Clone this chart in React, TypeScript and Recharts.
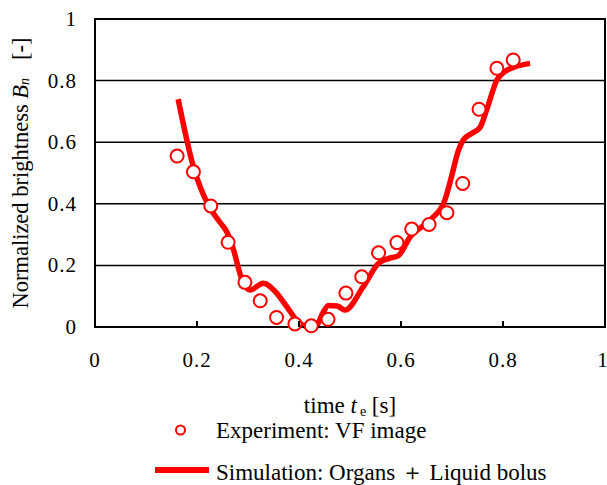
import React from 'react';
import {
  ComposedChart,
  Line,
  Scatter,
  XAxis,
  YAxis,
  CartesianGrid,
  ReferenceArea,
  Legend,
} from 'recharts';

// simulation curve (Organs + Liquid bolus)
const SIM_T = [
  0.163, 0.193, 0.222, 0.245, 0.258, 0.268, 0.291, 0.304, 0.33, 0.356, 0.376, 0.395, 0.415, 0.435,
  0.445, 0.458, 0.475, 0.49, 0.526, 0.556, 0.575, 0.595, 0.618, 0.657, 0.686, 0.699, 0.712, 0.722,
  0.74, 0.755, 0.768, 0.788, 0.804, 0.853,
];
const SIM_B = [
  0.74, 0.52, 0.396, 0.34, 0.31, 0.27, 0.142, 0.12, 0.142, 0.11, 0.066, 0.023, 0.002, 0.006,
  0.04, 0.07, 0.068, 0.055, 0.131, 0.207, 0.222, 0.232, 0.293, 0.347, 0.412, 0.488, 0.57, 0.607,
  0.63, 0.648, 0.705, 0.802, 0.83, 0.856,
];

// experiment: VF image
const EXP_T = [
  0.161, 0.193, 0.227, 0.261, 0.294, 0.324, 0.356, 0.392, 0.424, 0.457, 0.492, 0.523, 0.556,
  0.592, 0.621, 0.655, 0.69, 0.721, 0.753, 0.788, 0.82,
];
const EXP_B = [
  0.555, 0.504, 0.393, 0.275, 0.145, 0.085, 0.031, 0.01, 0.004, 0.025, 0.11, 0.163, 0.241,
  0.274, 0.318, 0.333, 0.371, 0.466, 0.707, 0.84, 0.867,
];

const TICKS = [0, 0.2, 0.4, 0.6, 0.8, 1];

const simData = SIM_T.map((t, i) => ({ t, v: SIM_B[i] }));
const expData = EXP_T.map((t, i) => ({ t, v: EXP_B[i] }));

const FONT = "'Liberation Serif', 'Times New Roman', 'DejaVu Serif', serif";
const RED = '#ff0000';
const serif = { fontFamily: FONT };

const XTick = (props: any) => {
  const { x, y, payload } = props;
  const v = payload.value;
  return (
    <g>
      {v > 0 && v < 1 && <line x1={x} y1={y} x2={x} y2={y - 6} stroke="#000" strokeWidth={2} />}
      <text x={x} y={y + 40} textAnchor="middle" style={serif} fontSize={21} fill="#000" letterSpacing={1}>
        {String(v)}
      </text>
    </g>
  );
};

const YTick = (props: any) => {
  const { x, y, payload } = props;
  return (
    <text x={x} y={y + 7} textAnchor="end" style={serif} fontSize={21} fill="#000" letterSpacing={1}>
      {String(payload.value)}
    </text>
  );
};

const XTitle = (props: any) => {
  const { viewBox } = props;
  const cx = viewBox.x + viewBox.width / 2;
  return (
    <text x={cx} y={viewBox.y + 86} textAnchor="middle" style={serif} fontSize={23} fill="#000">
      time <tspan fontStyle="italic">t</tspan>
      <tspan fontSize={14} dy={3} dx={3}>e</tspan>
      <tspan dy={-3}> [s]</tspan>
    </text>
  );
};

const YTitle = (props: any) => {
  const { viewBox } = props;
  const cx = viewBox.x - 15;
  const cy = viewBox.y + viewBox.height / 2;
  return (
    <text
      x={cx}
      y={cy}
      transform={`rotate(-90, ${cx}, ${cy})`}
      textAnchor="middle"
      dominantBaseline="central"
      style={serif}
      fontSize={22.5}
      fill="#000"
    >
      Normalized brightness <tspan fontStyle="italic">B</tspan>
      <tspan fontStyle="italic" fontSize={14} dy={4}>n</tspan>
      <tspan dy={-4} dx={18}>[-]</tspan>
    </text>
  );
};

const renderLegend = () => (
  <svg width={607} height={70} style={{ display: 'block' }}>
    <circle cx={180.5} cy={15} r={4.5} fill="#fff" stroke={RED} strokeWidth={2} />
    <text x={216} y={23} style={serif} fontSize={23} fill="#000">
      Experiment: VF image
    </text>
    <line x1={155} y1={55} x2={209} y2={55} stroke={RED} strokeWidth={6} />
    <text x={216} y={65} style={serif} fontSize={23} fill="#000">
      Simulation: Organs ＋ Liquid bolus
    </text>
  </svg>
);

export default function App() {
  return (
    <div style={{ position: 'absolute', left: 0, top: 0, background: '#fff', fontFamily: FONT }}>
      <ComposedChart width={607} height={485} margin={{ top: 19, right: 2, left: 35, bottom: 128 }}>
        <CartesianGrid vertical={false} stroke="#000" strokeWidth={1.5} />
        <XAxis
          type="number"
          dataKey="t"
          domain={[0, 1]}
          ticks={TICKS}
          height={30}
          axisLine={{ stroke: '#000', strokeWidth: 2 }}
          tickLine={false}
          tickSize={0}
          tickMargin={0}
          tick={<XTick />}
          label={{ content: <XTitle /> }}
        />
        <YAxis
          type="number"
          dataKey="v"
          domain={[0, 1]}
          ticks={TICKS}
          width={60}
          axisLine={{ stroke: '#000', strokeWidth: 2 }}
          tickLine={false}
          tickSize={0}
          tickMargin={18}
          tick={<YTick />}
          label={{ content: <YTitle /> }}
        />
        <ReferenceArea x1={0} x2={1} y1={0} y2={1} fill="none" stroke="#000" strokeWidth={2} />
        <Line
          data={simData}
          dataKey="v"
          type="monotone"
          stroke={RED}
          strokeWidth={5.5}
          dot={false}
          activeDot={false}
          isAnimationActive={false}
        />
        <Scatter
          data={expData}
          dataKey="v"
          fill="#fff"
          stroke={RED}
          strokeWidth={2}
          shape={(p: any) => <circle cx={p.cx} cy={p.cy} r={6.5} fill="#fff" stroke={RED} strokeWidth={2} />}
          isAnimationActive={false}
        />
        <Legend
          layout="vertical"
          align="center"
          verticalAlign="middle"
          content={renderLegend}
          wrapperStyle={{ position: 'absolute', left: 0, top: 415, width: 607, height: 70 }}
        />
      </ComposedChart>
    </div>
  );
}
